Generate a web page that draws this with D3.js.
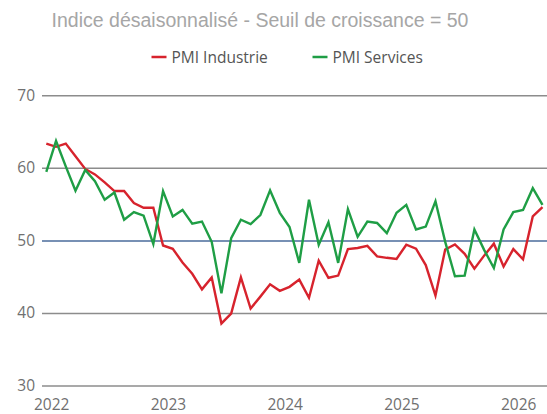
<!DOCTYPE html>
<html><head><meta charset="utf-8">
<script src="https://cdn.jsdelivr.net/npm/d3@7"></script>
<style>body{margin:0;background:#fff}svg{display:block}</style>
</head><body>
<svg id="c" width="547" height="414"></svg>
<script>
const title = "Indice désaisonnalisé - Seuil de croissance = 50";
const seriesNames = ["PMI Industrie", "PMI Services"];
const yTicks = [30, 40, 50, 60, 70];
const yearLabels = ["2022", "2023", "2024", "2025", "2026"];
const yearStartIndex = [0, 12, 24, 36, 48];
const industrie = [
  63.35, 62.9, 63.35, 61.6, 59.85, 59.1, 58.0, 56.8, 56.8, 55.15, 54.5, 54.5,
  49.3, 48.85, 46.95, 45.4, 43.25, 44.9, 38.55, 39.9, 44.9, 40.6, 42.25, 43.95,
  43.05, 43.6, 44.6, 42.1, 47.2, 44.85, 45.15, 48.8, 48.95, 49.25, 47.8, 47.6,
  47.45, 49.4, 48.85, 46.6, 42.4, 48.75, 49.45, 48.15, 46.1, 47.9, 49.55, 46.4,
  48.8, 47.4, 53.3, 54.6
];
const services = [
  59.45, 63.7, 60.2, 56.85, 59.7, 58.15, 55.6, 56.6, 52.85, 53.9, 53.4, 49.5,
  56.8, 53.3, 54.2, 52.3, 52.6, 49.8, 42.7, 50.3, 52.85, 52.25, 53.5, 56.9,
  53.8, 51.85, 46.9, 55.6, 49.4, 52.5, 46.9, 54.3, 50.5, 52.6, 52.4, 51.0,
  53.8, 54.9, 51.5, 51.9, 55.4, 49.8, 45.05, 45.15, 51.5, 48.7, 46.2, 51.5,
  53.9, 54.2, 57.2, 54.9
];
const colors = ["#d7232d", "#1f9e45"];
const threshold = 50;

const svg = d3.select("#c");
const x = d3.scaleLinear().domain([0, industrie.length - 1]).range([46.3, 542.5]);
const y = d3.scaleLinear().domain([30, 70]).range([385.5, 95.3]);
const gridLeft = 42, gridRight = 547;

// title
svg.append("text").attr("x", 260).attr("y", 26.5).attr("text-anchor", "middle")
  .attr("font-family", "Liberation Sans, Arial, sans-serif").attr("font-size", 19.5)
  .attr("fill", "#a6a6a6").text(title);

// legend
const legX = [151.5, 312.5];
seriesNames.forEach((n, i) => {
  svg.append("line").attr("x1", legX[i]).attr("x2", legX[i] + 15).attr("y1", 57).attr("y2", 57)
    .attr("stroke", colors[i]).attr("stroke-width", 2.5);
  svg.append("text").attr("x", legX[i] + 20).attr("y", 63).attr("font-family", "Open Sans, sans-serif")
    .attr("font-size", 15.5).attr("fill", "#555").text(n);
});

// y grid + labels
const yAxis = d3.axisLeft(y).tickValues(yTicks).tickSize(-(gridRight - gridLeft)).tickPadding(7);
const gy = svg.append("g").attr("transform", `translate(${gridLeft},0)`).call(yAxis);
gy.select(".domain").remove();
gy.selectAll(".tick line").attr("stroke", d => d === threshold ? "#4a6b9b" : "#8c8c8c").attr("stroke-width", 1.5);
gy.selectAll(".tick text").attr("font-family", "Open Sans, sans-serif").attr("font-size", 15.5)
  .attr("fill", "#707070");

// x labels (mid-January)
const xAxis = d3.axisBottom(x).tickValues(yearStartIndex.map(i => i + 0.5))
  .tickFormat((d, i) => yearLabels[i]).tickSize(0).tickPadding(0);
const gx = svg.append("g").attr("transform", "translate(0,399)").call(xAxis);
gx.select(".domain").remove();
gx.selectAll(".tick text").attr("font-family", "Open Sans, sans-serif").attr("font-size", 15.5)
  .attr("fill", "#707070");

// lines
const line = d3.line().x((d, i) => x(i)).y(d => y(d));
[industrie, services].forEach((s, i) => {
  svg.append("path").datum(s).attr("d", line).attr("fill", "none")
    .attr("stroke", colors[i]).attr("stroke-width", 2.4).attr("stroke-linejoin", "miter");
});
</script>
</body></html>
